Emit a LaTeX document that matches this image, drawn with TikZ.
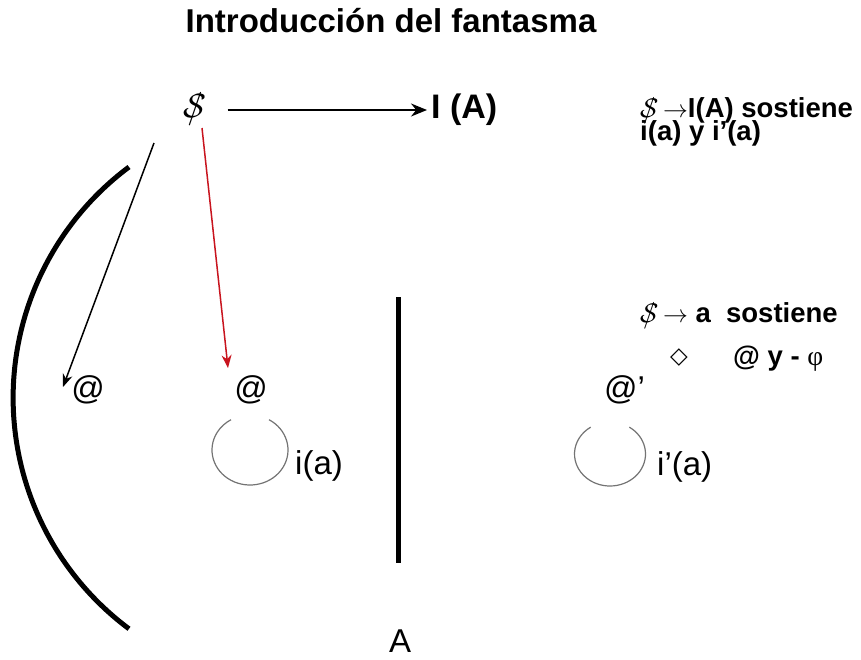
\documentclass[tikz,border=0pt]{standalone}
\usepackage{fontspec}
\setmainfont{Liberation Sans}
\newfontfamily\serifphi{Liberation Serif}
\newfontfamily\symbfont{DejaVu Sans}
\usetikzlibrary{arrows.meta}
\newcommand{\barS}[1][1]{\scalebox{#1}{\ooalign{$\mathcal{S}$\cr\hidewidth$/$\hidewidth\cr}}}
\definecolor{arrowred}{RGB}{200,20,30}
\tikzset{
  txt/.style={font=\fontsize{33}{38}\selectfont, inner sep=1pt},
  bigtxt/.style={font=\fontsize{33}{38}\selectfont\bfseries, inner sep=0pt},
  note/.style={font=\fontsize{27.5}{32}\selectfont\bfseries, inner sep=0pt, anchor=base west},
  thinarr/.style={line width=1.5pt, -{Stealth[length=13pt,width=10pt]}},
  thickbar/.style={line width=5pt},
  loopline/.style={black!55, line width=1.2pt}
}
\begin{document}
\begin{tikzpicture}[x=1pt, y=-1pt]
	\useasboundingbox (0,0) rectangle (861,659);
	\node[bigtxt, anchor=base] (title) at (391,32) {Introducción del fantasma};
	% subject and I(A)
	\node[txt] (subj) at (195,110) {\barS[1.35]};
	\node[bigtxt, font=\fontsize{34}{38}\selectfont\bfseries, anchor=west] (IA) at (431,110) {I (A)};
	\draw[line width=2pt, -{Stealth[length=16pt,width=13pt]}] ([xshift=20pt]subj.east) -- ([xshift=-4pt]IA.west);
	% notes on the right
	\node[note] (n1) at (640,117) {\barS[1.08]\,$\rightarrow$I(A) sostiene};
	\node[note] (n2) at (640,140) {i(a) y i’(a)};
	\node[note] (n3) at (640,322) {\barS[1.08]\,$\rightarrow$ a\ \ sostiene};
	\node[note, font=\fontsize{23}{26}\selectfont\symbfont] (n4) at (670,363) {◇};
	\node[note] (n5) at (733,365) {@ y - {\serifphi\mdseries φ}};
	% objects
	\node[txt] (atL) at (88,390) {@};
	\node[txt] (atM) at (251,390) {@};
	\node[txt, anchor=west] (atR) at (603,390) {@’};
	\node[txt, anchor=west] (ia) at (294,466) {i(a)};
	\node[txt, anchor=west] (ipa) at (656,467) {i’(a)};
	\node[txt] (A) at (400,641) {A};
	\draw[thinarr] ([xshift=-41pt,yshift=-33pt]subj.center) -- ([xshift=-25pt,yshift=3pt]atL.center);
	\draw[thinarr, arrowred] ([xshift=7pt,yshift=-18pt]subj.center) -- ([xshift=-23pt,yshift=22pt]atM.center);
	% loops
	\draw[loopline] (250,450) ++(-60:38 and 35) arc[start angle=-60, end angle=240, x radius=38, y radius=35];
	\draw[loopline] (610,454) ++(-57:35.5 and 32) arc[start angle=-57, end angle=237, x radius=35.5, y radius=32];
	% bar and big arc
	\draw[thickbar] (398,297) -- (398,563);
	\draw[thickbar] (129,167) arc[start angle=-126.7, end angle=-233.3, radius=288];
\end{tikzpicture}
\end{document}
